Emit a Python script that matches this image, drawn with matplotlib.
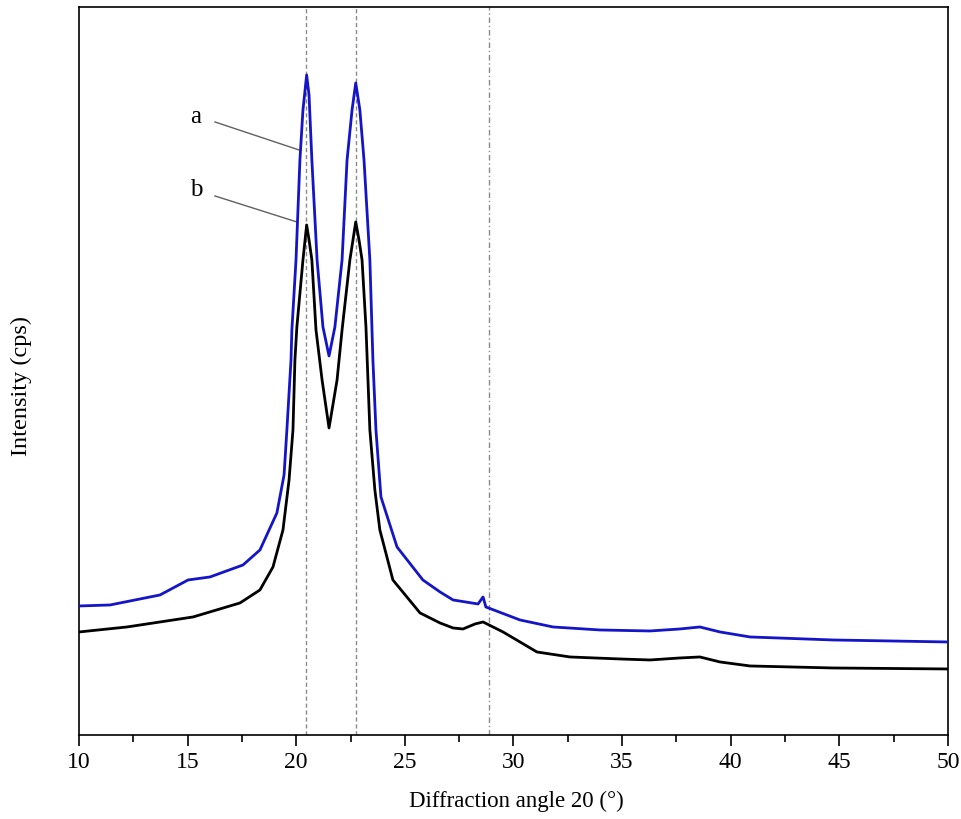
import numpy as np
import matplotlib.pyplot as plt
from matplotlib.ticker import MultipleLocator

# ---- data (intensity in arbitrary units) ----
angle_a = [10.00, 11.43, 13.73, 15.02, 16.03, 17.55, 18.33, 19.11, 19.44, 19.57,
           19.76, 19.80, 19.99, 20.17, 20.31, 20.48, 20.59, 20.72, 20.96, 21.23,
           21.51, 21.78, 22.11, 22.34, 22.57, 22.74, 22.93, 23.12, 23.39, 23.53,
           23.67, 23.90, 24.64, 25.83, 26.62, 27.22, 28.37, 28.60, 28.73, 30.30,
           31.82, 33.98, 36.28, 37.66, 38.58, 39.51, 40.89, 44.71, 50.00]
int_a = [129, 130, 140, 155, 158, 170, 185, 222, 260, 305,
         375, 405, 475, 575, 625, 660, 640, 575, 475, 408,
         379, 408, 475, 575, 625, 652, 625, 575, 475, 375,
         305, 238, 188, 155, 143, 135, 131, 138, 128, 115,
         108, 105, 104, 106, 108, 103, 98, 95, 93]

angle_b = [10.00, 12.21, 15.25, 17.41, 18.33, 18.93, 19.39, 19.67, 19.85, 19.94,
           20.03, 20.31, 20.48, 20.59, 20.72, 20.91, 21.19, 21.51, 21.88, 22.11,
           22.47, 22.74, 22.89, 23.03, 23.21, 23.39, 23.62, 23.85, 24.45, 25.70,
           26.62, 27.22, 27.68, 28.23, 28.60, 29.52, 31.08, 32.60, 34.90, 36.28,
           37.66, 38.58, 39.51, 40.89, 44.71, 50.00]
int_b = [103, 108, 118, 132, 145, 168, 205, 255, 305, 375,
         408, 475, 510, 495, 475, 405, 355, 307, 355, 405,
         475, 513, 495, 475, 408, 305, 245, 205, 155, 122,
         112, 107, 106, 111, 113, 103, 83, 78, 76, 75,
         77, 78, 73, 69, 67, 66]

peak_lines = [20.45, 22.75, 28.87]
peak_styles = [(0, (3, 2)), (0, (3, 2)), (0, (4, 2, 1, 2))]

# ---- style ----
plt.rcParams["font.family"] = "Liberation Serif"
plt.rcParams["font.size"] = 12

fig = plt.figure(figsize=(9.62, 8.19), dpi=100)
ax = fig.add_axes([0.0821, 0.1026, 0.9033, 0.8889])

for xv, ls in zip(peak_lines, peak_styles):
    ax.axvline(xv, color="#8a8a8a", linestyle=ls, linewidth=1.0, zorder=1)

ax.plot(angle_a, int_a, color="#1414c8", linewidth=2.0, zorder=3)
ax.plot(angle_b, int_b, color="black", linewidth=2.0, zorder=3)

# labels with leader lines
ax.plot([16.26, 20.13], [613, 585], color="#606060", linewidth=1.0, zorder=2)
ax.plot([16.26, 20.03], [539, 513], color="#606060", linewidth=1.0, zorder=2)
ax.text(15.39, 618, "a", fontsize=18, ha="center", va="center")
ax.text(15.39, 545, "b", fontsize=18, ha="center", va="center")

ax.set_xlim(10, 50)
ax.set_ylim(0, 728)
ax.xaxis.set_major_locator(MultipleLocator(5))
ax.xaxis.set_minor_locator(MultipleLocator(2.5))
ax.tick_params(axis="x", which="major", direction="out", length=8, width=1.2,
               labelsize=17, pad=4)
ax.tick_params(axis="x", which="minor", direction="out", length=5, width=1.2)
ax.tick_params(axis="y", left=False, labelleft=False)

for spine in ax.spines.values():
    spine.set_linewidth(1.2)

ax.set_xlabel("Diffraction angle 20 (°)", fontsize=16.5)
ax.xaxis.set_label_coords(0.503, -0.077)
ax.set_ylabel("Intensity (cps)", fontsize=17.5)
ax.yaxis.set_label_coords(-0.054, 0.48)

plt.savefig("out.png", dpi=100, facecolor="white")
